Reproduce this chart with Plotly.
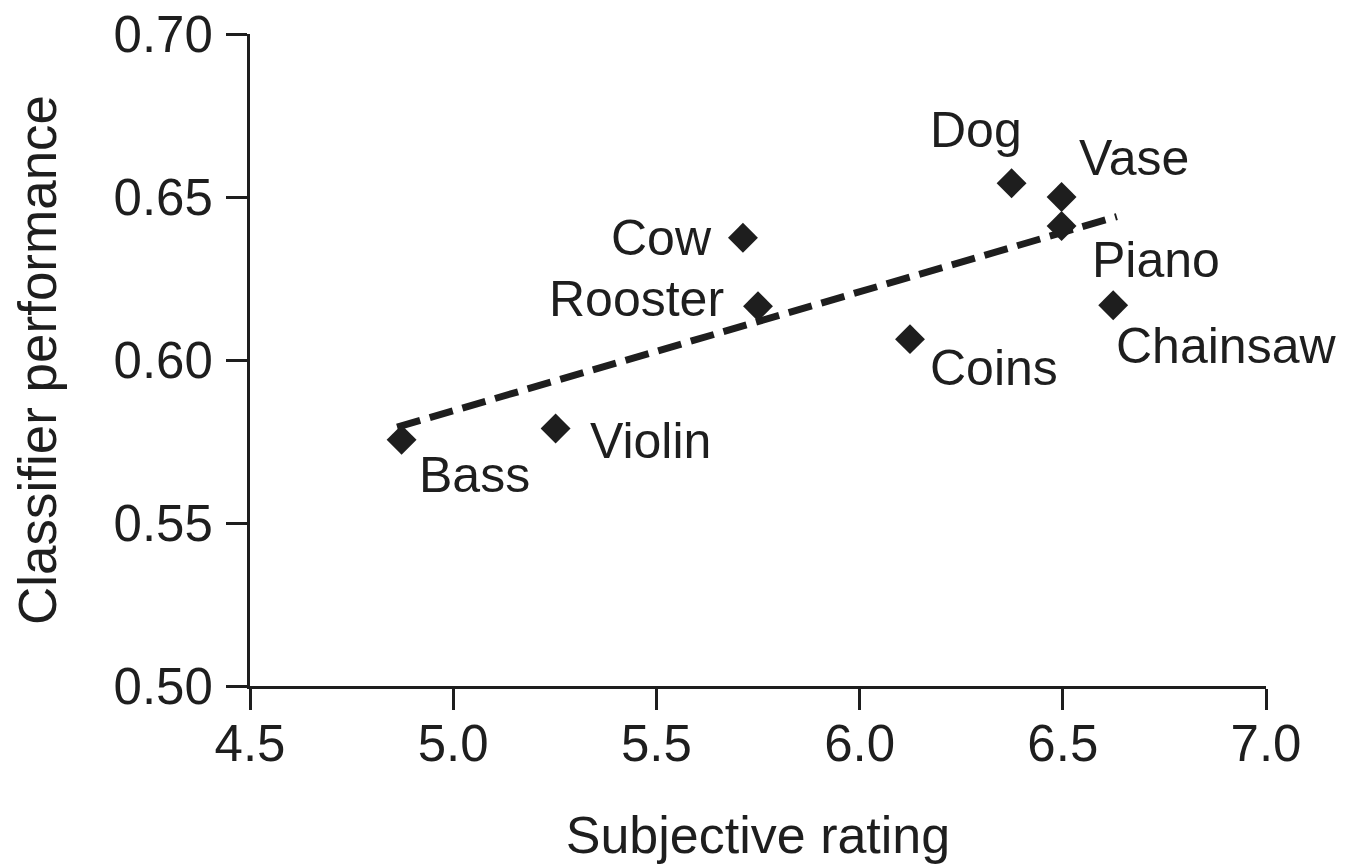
import plotly.graph_objects as go

# Data
labels = ["Bass", "Violin", "Cow", "Rooster", "Coins", "Dog", "Vase", "Piano", "Chainsaw"]
subjective_rating = [4.873, 5.252, 5.713, 5.750, 6.124, 6.374, 6.497, 6.497, 6.624]
classifier_performance = [0.5755, 0.579, 0.6375, 0.6165, 0.6064, 0.6542, 0.6500, 0.6411, 0.6168]

trend_x = [4.862, 6.633]
trend_y = [0.5794, 0.6440]

x_ticks = [4.5, 5.0, 5.5, 6.0, 6.5, 7.0]
y_ticks = [0.50, 0.55, 0.60, 0.65, 0.70]

# Label offsets in pixels (style, not data)
label_shift = {
    "Bass": (73, -35), "Violin": (95, -13), "Cow": (-81, 0), "Rooster": (-122, 7),
    "Coins": (84, -29), "Dog": (-36, 53), "Vase": (72, 39), "Piano": (94, -34),
    "Chainsaw": (113, -41),
}

INK = "#1e1e1e"
FONT = "Liberation Sans, Arial, Helvetica, sans-serif"

fig = go.Figure()
fig.add_trace(go.Scatter(
    x=trend_x, y=trend_y, mode="lines",
    line=dict(color=INK, width=7, dash="24px,10px"),
    hoverinfo="skip", showlegend=False,
))
fig.add_trace(go.Scatter(
    x=subjective_rating, y=classifier_performance, mode="markers",
    marker=dict(symbol="diamond", size=23, color=INK, line=dict(width=0)),
    text=labels, showlegend=False,
))

for lab, xv, yv in zip(labels, subjective_rating, classifier_performance):
    dx, dy = label_shift[lab]
    fig.add_annotation(x=xv, y=yv, text=lab, showarrow=False,
                       xshift=dx, yshift=dy,
                       font=dict(family=FONT, size=50, color=INK))

axis_common = dict(
    showline=True, linecolor=INK, linewidth=3,
    ticks="outside", ticklen=21, tickwidth=3, tickcolor=INK,
    showgrid=False, zeroline=False, automargin=False,
    ticklabeloverflow="allow",
    tickfont=dict(family=FONT, size=51, color=INK),
)

# page body has an 8px default margin, so the figure is 8px smaller each way
fig.update_layout(
    width=1353, height=859,
    margin=dict(l=242, r=95, t=26, b=181),
    paper_bgcolor="white", plot_bgcolor="white",
    xaxis=dict(range=[4.5, 7.0], tickvals=x_ticks,
               ticktext=[f"{v:.1f}" for v in x_ticks],
               ticklabelstandoff=-10,
               title=dict(text="Subjective rating", standoff=46,
                          font=dict(family=FONT, size=52, color=INK)),
               **axis_common),
    yaxis=dict(range=[0.50, 0.70], tickvals=y_ticks,
               ticktext=[f"{v:.2f}" for v in y_ticks],
               ticklabelstandoff=3,
               title=dict(text="Classifier performance", standoff=44,
                          font=dict(family=FONT, size=53, color=INK)),
               **axis_common),
)

fig.write_html("out.html")
